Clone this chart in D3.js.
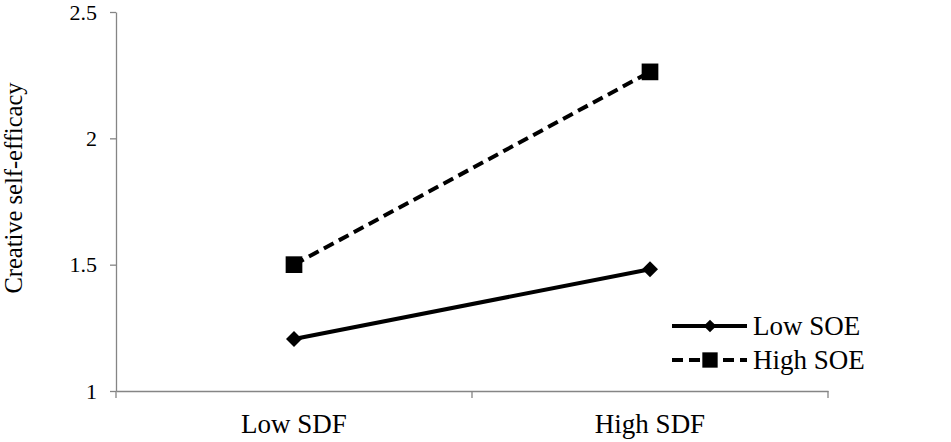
<!doctype html>
<html>
<head>
<meta charset="utf-8">
<script src="https://d3js.org/d3.v7.min.js"></script>
<style>
  body { margin: 0; background: #fff; }
</style>
</head>
<body>
<script>
var categories = ["Low SDF", "High SDF"];
var seriesNames = ["Low SOE", "High SOE"];
var lowSOE = [1.206, 1.482];
var highSOE = [1.50, 2.263];
var yTicks = [1, 1.5, 2, 2.5];

var width = 951, height = 442;
var margin = {left: 116, right: 123, top: 12, bottom: 51};
var serif = "Liberation Serif";

var svg = d3.select("body").append("svg")
    .attr("width", width)
    .attr("height", height)
    .attr("font-family", serif);

var x = d3.scaleBand()
    .domain(categories)
    .range([margin.left, width - margin.right]);

var y = d3.scaleLinear()
    .domain([1, 2.5])
    .range([height - margin.bottom, margin.top]);

var axisColor = "#858585";

// y axis
var yAxis = svg.append("g")
    .attr("transform", "translate(" + margin.left + ",0)")
    .call(d3.axisLeft(y).tickValues(yTicks).tickFormat(d3.format("")).tickSize(6).tickPadding(13).tickSizeOuter(0));
yAxis.attr("font-family", serif).attr("font-size", 22);
yAxis.select(".domain").attr("stroke", axisColor).attr("stroke-width", 1.3);
yAxis.selectAll(".tick line").attr("stroke", axisColor).attr("stroke-width", 1.3);
yAxis.selectAll(".tick text").attr("fill", "#000");

// x axis, ticks on band edges
var xAxis = svg.append("g")
    .attr("transform", "translate(0," + y(1) + ")")
    .call(d3.axisBottom(x).tickSize(0).tickPadding(23).tickSizeOuter(0));
xAxis.attr("font-family", serif).attr("font-size", 27);
xAxis.select(".domain").attr("stroke", axisColor).attr("stroke-width", 1.3);
xAxis.selectAll(".tick text").attr("fill", "#000");
var edges = categories.map(function(c) { return x(c); }).concat([x.range()[1]]);
xAxis.selectAll(".edge").data(edges).enter().append("line")
    .attr("x1", function(d) { return d; }).attr("x2", function(d) { return d; })
    .attr("y1", 0).attr("y2", 7)
    .attr("stroke", axisColor).attr("stroke-width", 1.3);

// y title
svg.append("text")
    .attr("transform", "translate(22,188) rotate(-90)")
    .attr("text-anchor", "middle")
    .attr("font-size", 24.5)
    .text("Creative self-efficacy");

var cx = function(i) { return x(categories[i]) + x.bandwidth() / 2; };
var line = d3.line()
    .x(function(d, i) { return cx(i); })
    .y(function(d) { return y(d); });

// diamond = square turned 45 degrees
var series = [
  {name: seriesNames[0], values: lowSOE, dash: null, rot: 45, size: 128, legendSize: 80},
  {name: seriesNames[1], values: highSOE, dash: "11,6", rot: 0, size: 279, legendSize: 235}
];

series.forEach(function(s) {
  svg.append("path")
      .attr("d", line(s.values))
      .attr("fill", "none")
      .attr("stroke", "#000")
      .attr("stroke-width", 4)
      .attr("stroke-dasharray", s.dash);
  svg.selectAll(null).data(s.values).enter().append("path")
      .attr("d", d3.symbol().type(d3.symbolSquare).size(s.size))
      .attr("transform", function(d, i) {
        return "translate(" + cx(i) + "," + y(d) + ") rotate(" + s.rot + ")";
      })
      .attr("fill", "#000");
});

// legend
var legend = svg.append("g").attr("transform", "translate(672,326)");
series.forEach(function(s, i) {
  var g = legend.append("g").attr("transform", "translate(0," + (i * 34) + ")");
  g.append("line")
      .attr("x1", 0).attr("x2", 75).attr("y1", 0).attr("y2", 0)
      .attr("stroke", "#000").attr("stroke-width", 4)
      .attr("stroke-dasharray", s.dash);
  g.append("path")
      .attr("d", d3.symbol().type(d3.symbolSquare).size(s.legendSize))
      .attr("transform", "translate(38,0) rotate(" + s.rot + ")")
      .attr("fill", "#000");
  g.append("text")
      .attr("x", 81).attr("y", 0).attr("dy", "0.35em")
      .attr("font-size", 27)
      .text(s.name);
});
</script>
</body>
</html>
